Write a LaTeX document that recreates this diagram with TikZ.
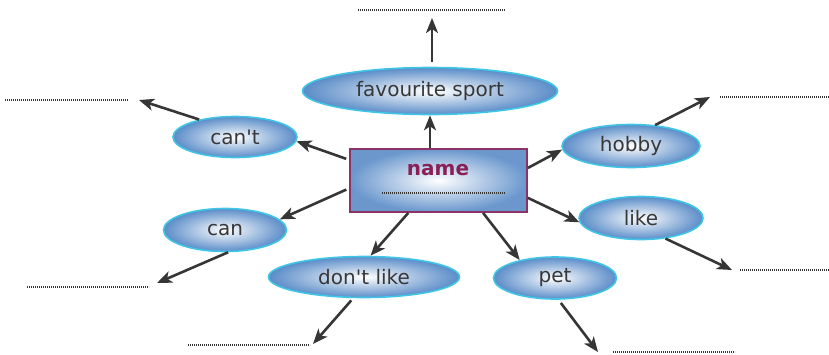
\documentclass[tikz,border=0pt]{standalone}
\usepackage{fontspec}
\setmainfont{DejaVu Sans}
\usetikzlibrary{shapes.geometric,arrows.meta}
\definecolor{bubbleblue}{HTML}{5A8CC8}
\definecolor{bubbleedge}{HTML}{3FC6E6}
\definecolor{namered}{HTML}{8A1F55}
\definecolor{nameedge}{HTML}{8B3366}
\definecolor{arrowgrey}{HTML}{363636}
\definecolor{textgrey}{HTML}{383838}

\tikzset{
  bubble/.style={ellipse, draw=bubbleedge, line width=1.6pt, inner sep=0pt,
    inner color=white, outer color=bubbleblue, text=textgrey,
    font=\fontsize{20}{24}\selectfont},
  arr/.style={arrowgrey, line width=2.6pt, -{Stealth[length=15pt,width=12pt,inset=4pt]}},
  blank/.style={arrowgrey, line width=1.6pt, dash pattern=on 1.1pt off 0.9pt},
}

\begin{document}
\begin{tikzpicture}[x=1pt,y=-1pt]
  \useasboundingbox (0,0) rectangle (829,354);

  % centre box
  \node[draw=nameedge, line width=1.8pt, inner color=white, outer color=bubbleblue!90,
    minimum width=177pt, minimum height=63pt] (name) at (438.5,180.5) {};
  \node[namered, font=\fontsize{20}{24}\selectfont\bfseries] (nametext) at (438,170) {name};
  \coordinate (namel) at (382,193);
  \coordinate (namer) at (505,193);
  \draw[blank, line width=1.3pt] (namel) -- (namer);

  % bubbles
  \node[bubble, minimum width=255pt, minimum height=47pt] (sport) at (430,91) {favourite sport};
  \node[bubble, minimum width=124pt, minimum height=41pt] (cant) at (235,137) {can\textquotesingle t};
  \node[bubble, minimum width=138pt, minimum height=43pt] (hobby) at (631,146) {hobby};
  \node[bubble, minimum width=123pt, minimum height=43pt] (can) at (225,230) {can};
  \node[bubble, minimum width=191pt, minimum height=41pt] (dontlike) at (364,277) {don\textquotesingle t like};
  \node[bubble, minimum width=124pt, minimum height=43pt] (like) at (641,218) {like};
  \node[bubble, minimum width=123pt, minimum height=42pt] (pet) at (555,278) {pet};

  % answer lines
  \coordinate (sportl) at (358,10);   \coordinate (sportr) at (505,10);
  \coordinate (cantl) at (5,100);     \coordinate (cantr) at (128,100);
  \coordinate (hobbyl) at (720,97);   \coordinate (hobbyr) at (829,97);
  \coordinate (canl) at (27,287);     \coordinate (canr) at (149,287);
  \coordinate (dontl) at (188,345);   \coordinate (dontr) at (310,345);
  \coordinate (likel) at (740,270);   \coordinate (liker) at (829,270);
  \coordinate (petl) at (613,352);    \coordinate (petr) at (735,352);
  \foreach \a/\b in {sportl/sportr, cantl/cantr, hobbyl/hobbyr, canl/canr,
                     dontl/dontr, likel/liker, petl/petr}
    \draw[blank] (\a) -- (\b);

  % arrow tips at the lines
  \coordinate (sporttip) at (432,18);
  \coordinate (canttip) at (139,100);
  \coordinate (hobbytip) at (710,97);
  \coordinate (cantip) at (157,283);
  \coordinate (donttip) at (313,344);
  \coordinate (liketip) at (732,270);
  \coordinate (pettip) at (598,352);

  % arrows from the box
  \draw[arr] (name.north -| sport.south) -- (sport.south);
  \draw[arr, shorten <=3pt] (name.167) -- (cant.-4);
  \draw[arr] (name.8) -- (hobby.183);
  \draw[arr, shorten <=3pt] (name.185) -- (can.11);
  \draw[arr] (name.227) -- (dontlike.73);
  \draw[arr] (name.-11) -- (like.184);
  \draw[arr] (name.-36) -- (pet.153);

  % arrows to the lines
  \draw[arr, shorten <=5pt] (sport.north -| sporttip) -- (sporttip);
  \draw[arr] (cant.154) -- (canttip);
  \draw[arr] (hobby.41) -- (hobbytip);
  \draw[arr] (can.-82) -- (cantip);
  \draw[arr, shorten <=3pt] (dontlike.243) -- (donttip);
  \draw[arr] (like.-40) -- (liketip);
  \draw[arr, shorten <=4pt] (pet.-81) -- (pettip);
\end{tikzpicture}
\end{document}
